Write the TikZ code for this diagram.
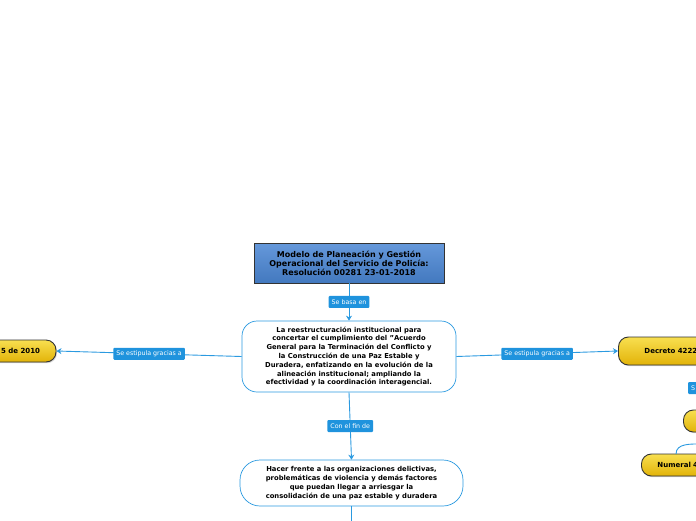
\documentclass[tikz,border=0pt]{standalone}
\usepackage{fontspec}
\setmainfont{DejaVu Sans}
\usetikzlibrary{shadows,arrows.meta}
\definecolor{conn}{HTML}{2B9AE0}
\definecolor{lblfill}{HTML}{1F93DD}
\definecolor{topblue}{HTML}{4A86D4}
\definecolor{ytop}{HTML}{F8DF50}
\definecolor{ybot}{HTML}{E2B308}
\definecolor{edge}{HTML}{333333}
\tikzset{
  topbox/.style={draw=edge, line width=0.6pt, top color=topblue!85!white, bottom color=topblue!90!black,
    drop shadow={shadow xshift=1pt,shadow yshift=-1pt,opacity=0.3},
    font=\bfseries\fontsize{8}{9}\selectfont, align=center, inner sep=2pt},
  mainbox/.style={draw=conn, line width=0.7pt, fill=white, rounded corners=15pt,
    font=\bfseries\fontsize{6.8}{8.8}\selectfont, align=center, inner sep=2pt},
  ybox/.style={draw=edge, line width=0.9pt, top color=ytop, bottom color=ybot, rounded corners=10pt,
    drop shadow={shadow xshift=1pt,shadow yshift=-1.2pt,opacity=0.35},
    font=\bfseries\fontsize{7}{8}\selectfont},
  lbl/.style={fill=lblfill, text=white, rounded corners=1pt, font=\fontsize{6.3}{7}\selectfont,
    inner xsep=3pt, inner ysep=2pt, minimum height=12pt},
  conn/.style={draw=conn, line width=0.9pt},
  arr/.style={conn, -{Stealth[length=5pt,width=6pt]}},
}
\begin{document}
\begin{tikzpicture}[x=1pt,y=-1pt]
\useasboundingbox (0,0) rectangle (696,520);
\clip (0,0) rectangle (696,520);

\node[topbox, minimum width=190pt, minimum height=40pt] (top) at (349,263)
  {Modelo de Planeación y Gestión\\Operacional del Servicio de Policía:\\Resolución 00281 23-01-2018};

\node[mainbox, minimum width=214pt, minimum height=71pt] (c) at (349,356.5)
  {La reestructuración institucional para\\concertar el cumplimiento del "Acuerdo\\General para la Terminación del Conflicto y\\la Construcción de una Paz Estable y\\Duradera, enfatizando en la evolución de la\\alineación institucional; ampliando la\\efectividad y la coordinación interagencial.};

\node[mainbox, minimum width=223pt, minimum height=46pt, rounded corners=20pt] (b) at (351.5,483)
  {Hacer frente a las organizaciones delictivas,\\problemáticas de violencia y demás factores\\que puedan llegar a arriesgar la\\consolidación de una paz estable y duradera};

\node[ybox, minimum height=22pt, text width=84pt, inner xsep=16pt, align=right] (l) at (-2,351) {5 de 2010};

\node[ybox, anchor=west, minimum height=28pt, text width=100pt, inner xsep=26pt, align=left] (r) at (618,351) {Decreto 4222};

\node[ybox, anchor=west, minimum width=60pt, minimum height=22pt] (y2) at (683,421) {};

\node[ybox, anchor=west, minimum height=22pt, text width=80pt, inner xsep=16pt, align=left] (num) at (641,465) {Numeral 4};

\node[lbl, anchor=west] (s) at (688,388) {S};

\draw[arr] (top.south) -- node[lbl]{Se basa en} (c.north);
\draw[arr] (c.west) -- node[lbl]{Se estipula gracias a} (l.east);
\draw[arr] (c.east) -- node[lbl]{Se estipula gracias a} (r.west);
\draw[arr] (c.south) -- node[lbl]{Con el fin de} (b.north);

\coordinate (ns) at (676,454);
\coordinate (ne) at (702,444);
\draw[conn] (ns) to[out=90,in=180] (ne);

\coordinate (bend) at (351.5,525);
\draw[conn] (b.south) -- (bend);
\end{tikzpicture}
\end{document}
